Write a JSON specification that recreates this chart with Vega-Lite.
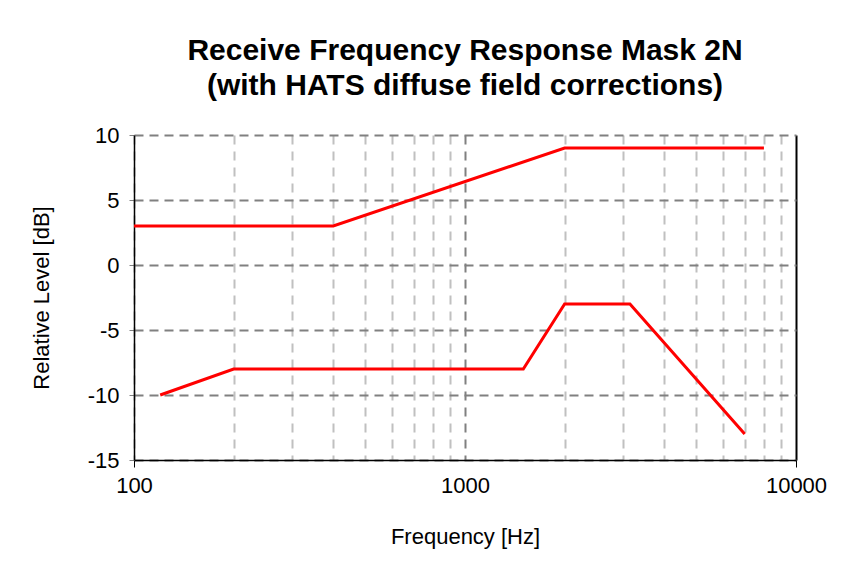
{
  "$schema": "https://vega.github.io/schema/vega-lite/v6.json",
  "width": 662,
  "height": 325,
  "autosize": {"type": "none"},
  "padding": {"left": 134, "top": 135, "right": 57, "bottom": 117},
  "background": "white",
  "title": {
    "text": ["Receive Frequency Response Mask 2N", "(with HATS diffuse field corrections)"],
    "font": "Liberation Sans Narrow, Liberation Sans, Arial",
    "fontSize": 30,
    "fontWeight": "bold",
    "color": "#000000",
    "anchor": "middle",
    "lineHeight": 35,
    "offset": 27,
    "dy": 4
  },
  "config": {
    "view": {"stroke": null},
    "font": "Liberation Sans",
    "axis": {
      "labelFont": "Liberation Sans",
      "titleFont": "Liberation Sans",
      "labelFontSize": 22,
      "titleFontSize": 22,
      "labelColor": "#000000",
      "titleColor": "#000000",
      "titleFontWeight": "normal"
    }
  },
  "data": {
    "values": [
      {"series": "upper", "freq": 100, "level": 3},
      {"series": "upper", "freq": 400, "level": 3},
      {"series": "upper", "freq": 2000, "level": 9},
      {"series": "upper", "freq": 8000, "level": 9},
      {"series": "lower", "freq": 120, "level": -10},
      {"series": "lower", "freq": 200, "level": -8},
      {"series": "lower", "freq": 1500, "level": -8},
      {"series": "lower", "freq": 2000, "level": -3},
      {"series": "lower", "freq": 3150, "level": -3},
      {"series": "lower", "freq": 7000, "level": -13}
    ]
  },
  "mark": {"type": "line", "color": "#ff0000", "strokeWidth": 3, "clip": false},
  "encoding": {
    "x": {
      "field": "freq",
      "type": "quantitative",
      "scale": {"type": "log", "domain": [100, 10000], "nice": false},
      "axis": {
        "title": "Frequency [Hz]",
        "values": [100, 200, 300, 400, 500, 600, 700, 800, 900, 1000, 2000, 3000, 4000, 5000, 6000, 7000, 8000, 9000, 10000],
        "labelExpr": "datum.value == 100 || datum.value == 1000 || datum.value == 10000 ? '' + datum.value : ''",
        "labelPadding": 8,
        "labelFlush": false,
        "labelOverlap": false,
        "titlePadding": 30,
        "domainColor": "#000000",
        "domainWidth": 1.5,
        "tickSize": 7,
        "tickWidth": 1,
        "tickColor": {"condition": {"test": "datum.value == 100 || datum.value == 10000", "value": "#000000"}, "value": "transparent"},
        "grid": true,
        "gridColor": {"condition": [{"test": "datum.value == 10000", "value": "#000000"}, {"test": "datum.value == 1000", "value": "#808080"}], "value": "#c0c0c0"},
        "gridDash": {"condition": {"test": "datum.value == 10000", "value": []}, "value": [9, 7]},
        "gridWidth": 2
      }
    },
    "y": {
      "field": "level",
      "type": "quantitative",
      "scale": {"domain": [-15, 10], "nice": false},
      "axis": {
        "title": "Relative Level [dB]",
        "values": [-15, -10, -5, 0, 5, 10],
        "labelExpr": "'' + datum.value",
        "labelPadding": 10,
        "titlePadding": 34,
        "domainColor": "#000000",
        "domainWidth": 1.5,
        "tickSize": 5,
        "tickColor": "#808080",
        "tickWidth": 1,
        "grid": true,
        "gridColor": "#808080",
        "gridDash": [9, 6],
        "gridWidth": 2
      }
    },
    "detail": {"field": "series"}
  }
}
